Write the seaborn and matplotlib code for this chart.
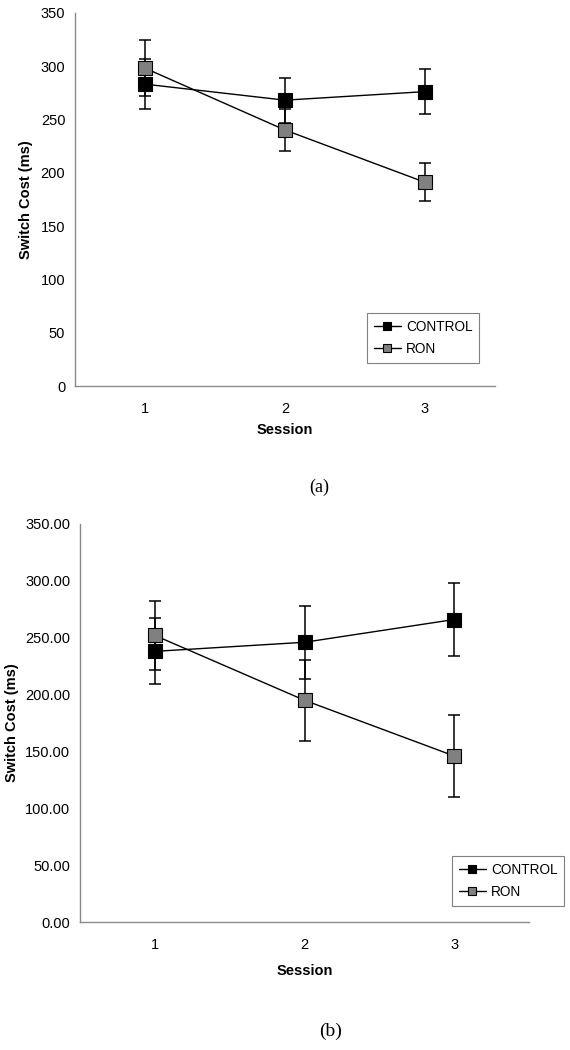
import matplotlib
matplotlib.use('Agg')
import matplotlib.pyplot as plt
import seaborn as sns
import pandas as pd
import numpy as np
from matplotlib.ticker import FixedLocator, FuncFormatter

# values
sessions = [1, 2, 3]
groups = ["CONTROL", "RON"]

a_control = [283, 268, 276]
a_control_err = [23.5, 21, 21]
a_ron = [298, 240, 191]
a_ron_err = [26.5, 20, 18]

b_control = [238, 246, 266]
b_control_err = [29, 32, 32.5]
b_ron = [252, 195, 146]
b_ron_err = [30, 35.5, 36]

y_ticks = [0, 50, 100, 150, 200, 250, 300, 350]

face = {"CONTROL": "black", "RON": "#808080"}
SPINE = "#8a8a8a"


def make_frame(control, control_err, ron, ron_err):
    rows = []
    for g, vals, errs in [("CONTROL", control, control_err), ("RON", ron, ron_err)]:
        for i, (s, v, e) in enumerate(zip(sessions, vals, errs)):
            rows.append({"pos": i, "session": s, "group": g, "cost": v, "err": e})
    return pd.DataFrame(rows)


def draw_panel(ax, df, fmt, ylab_x, xlab_y, legend_xy, fig):
    for g in groups:
        sub = df[df["group"] == g]
        ax.errorbar(sub["pos"], sub["cost"], yerr=sub["err"], fmt="none",
                    ecolor="black", elinewidth=1.1, capsize=4.5, capthick=1.1, zorder=2)
        sns.lineplot(data=sub, x="pos", y="cost", ax=ax, color="black", lw=1.0,
                     marker="s", markersize=9.5, markerfacecolor=face[g],
                     markeredgecolor="black", markeredgewidth=0.8,
                     label=g, zorder=3)

    ax.set_xlim(-0.5, 2.5)
    ax.set_ylim(0, 350)
    ax.set_yticks(y_ticks)
    ax.yaxis.set_major_formatter(FuncFormatter(lambda v, p: fmt.format(v)))
    ax.set_xticks(range(len(sessions)))
    ax.set_xticklabels([str(s) for s in sessions])
    ax.xaxis.set_minor_locator(FixedLocator([-0.5, 0.5, 1.5, 2.5]))
    ax.tick_params(axis="x", which="major", length=0, pad=11.5, labelsize=10.5,
                   labelcolor="black")
    ax.tick_params(axis="x", which="minor", length=3, width=0.8, color=SPINE, direction="out")
    ax.tick_params(axis="y", length=3.5, width=0.8, color=SPINE, direction="out",
                   pad=3.5, labelsize=10.5, labelcolor="black")

    sns.despine(ax=ax)
    for s in ["left", "bottom"]:
        ax.spines[s].set_color(SPINE)
        ax.spines[s].set_linewidth(1.0)

    ax.set_xlabel("Session", fontweight="bold", fontsize=10.5, color="black")
    ax.set_ylabel("Switch Cost (ms)", fontweight="bold", fontsize=10.5, color="black")
    ax.yaxis.set_label_coords(ylab_x, 0.5)
    ax.xaxis.set_label_coords(0.5, xlab_y)

    leg = ax.legend(loc="upper left", bbox_to_anchor=legend_xy, bbox_transform=fig.transFigure,
                    borderaxespad=0, frameon=True, fancybox=False, edgecolor="#808080",
                    markerscale=0.6, fontsize=9.8, handlelength=2.0, handletextpad=0.35,
                    borderpad=0.5, labelspacing=0.6, framealpha=1)
    leg.get_frame().set_linewidth(0.8)
    for t in leg.get_texts():
        t.set_color("black")


sns.set_style("white")
plt.rcParams["font.family"] = ["Liberation Sans", "DejaVu Sans"]
plt.rcParams["text.color"] = "black"

fig = plt.figure(figsize=(5.7, 10.5), dpi=100)
ax_a = fig.add_axes([75 / 570, 1 - 386 / 1050, 420 / 570, 373.3 / 1050])
ax_b = fig.add_axes([80 / 570, 1 - 922 / 1050, 449 / 570, 398 / 1050])

df_a = make_frame(a_control, a_control_err, a_ron, a_ron_err)
df_b = make_frame(b_control, b_control_err, b_ron, b_ron_err)

draw_panel(ax_a, df_a, "{:.0f}", -0.10, -0.099, (367 / 570, 1 - 313 / 1050), fig)
draw_panel(ax_b, df_b, "{:.2f}", -0.136, -0.1055, (452 / 570, 1 - 856 / 1050), fig)

fig.text(319 / 570, 1 - 487 / 1050, "(a)", ha="center", va="center",
         family="Liberation Serif", fontsize=13, color="black")
fig.text(331 / 570, 1 - 1031 / 1050, "(b)", ha="center", va="center",
         family="Liberation Serif", fontsize=14, color="black")

fig.savefig("out.png", dpi=100)
